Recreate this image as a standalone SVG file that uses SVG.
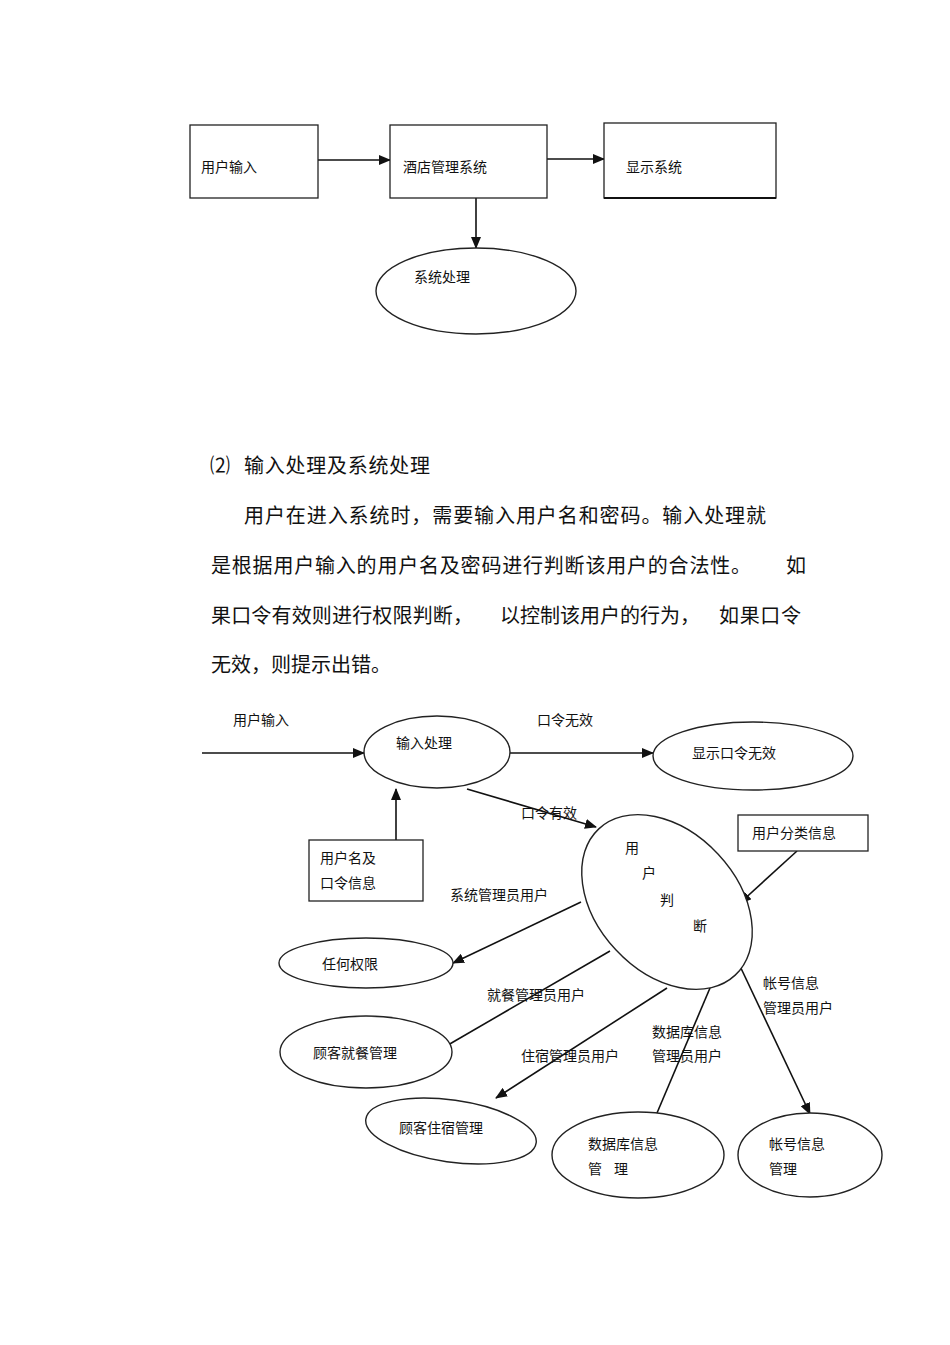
<svg xmlns="http://www.w3.org/2000/svg" width="950" height="1345" viewBox="0 0 950 1345">
<style>
.bg{fill:#ffffff}
.box{fill:#ffffff;stroke:#222;stroke-width:1.3}
.ell{fill:#ffffff;stroke:#222;stroke-width:1.4}
.ln{fill:none;stroke:#111;stroke-width:1.6}
.t{font-family:"Liberation Serif","Noto Sans CJK SC",serif;font-size:14px;fill:#111}
.p{font-family:"Liberation Serif","Noto Sans CJK SC",serif;font-size:20px;fill:#111}
</style>
<defs>
<marker id="ah" markerWidth="12" markerHeight="10" refX="11" refY="5" orient="auto" markerUnits="userSpaceOnUse">
<path d="M0,0 L12,5 L0,10 Z" fill="#111"/>
</marker>
</defs>
<rect class="bg" x="0" y="0" width="950" height="1345"/>

<!-- Top diagram -->
<g id="connectors-top">
<line class="ln" x1="318" y1="160" x2="390" y2="160" marker-end="url(#ah)"/>
<line class="ln" x1="547" y1="159" x2="604" y2="159" marker-end="url(#ah)"/>
<line class="ln" x1="476" y1="198" x2="476" y2="248" marker-end="url(#ah)"/>
</g>
<g id="n-user-input">
<rect class="box" x="190" y="125" width="128" height="73"/>
<text class="t" x="201" y="172">用户输入</text>
</g>
<g id="n-hotel-system">
<rect class="box" x="390" y="125" width="157" height="73"/>
<text class="t" x="403" y="172">酒店管理系统</text>
</g>
<g id="n-display-system">
<rect class="box" x="604" y="123" width="172" height="75"/>
<line x1="604" y1="198" x2="776" y2="198" stroke="#111" stroke-width="2.2"/>
<text class="t" x="626" y="172">显示系统</text>
</g>
<g id="n-system-process">
<ellipse class="ell" cx="476" cy="291" rx="100" ry="43"/>
<text class="t" x="414" y="282">系统处理</text>
</g>

<!-- Paragraph -->
<g id="paragraph">
<text class="p" x="210" y="473">⑵</text>
<text class="p" x="244" y="473" textLength="186" lengthAdjust="spacing">输入处理及系统处理</text>
<text class="p" x="244" y="523" textLength="522" lengthAdjust="spacing">用户在进入系统时，需要输入用户名和密码。输入处理就</text>
<text class="p" x="211" y="573" textLength="540" lengthAdjust="spacing">是根据用户输入的用户名及密码进行判断该用户的合法性。</text>
<text class="p" x="786" y="573">如</text>
<text class="p" x="211" y="623" textLength="262" lengthAdjust="spacing">果口令有效则进行权限判断，</text>
<text class="p" x="500" y="623" textLength="200" lengthAdjust="spacing">以控制该用户的行为，</text>
<text class="p" x="719" y="623" textLength="82" lengthAdjust="spacing">如果口令</text>
<text class="p" x="211" y="672" textLength="180" lengthAdjust="spacing">无效，则提示出错。</text>
</g>

<!-- Bottom diagram connectors -->
<g id="connectors">
<line class="ln" x1="202" y1="753" x2="364" y2="753" marker-end="url(#ah)"/>
<line class="ln" x1="510" y1="753" x2="653" y2="753" marker-end="url(#ah)"/>
<line class="ln" x1="467" y1="789" x2="596" y2="827" marker-end="url(#ah)"/>
<line class="ln" x1="396" y1="840" x2="396" y2="789" marker-end="url(#ah)"/>
<line class="ln" x1="797" y1="851" x2="740" y2="903" marker-end="url(#ah)"/>
<line class="ln" x1="581" y1="902" x2="453" y2="963" marker-end="url(#ah)"/>
<line class="ln" x1="610" y1="951" x2="448" y2="1045"/>
<line class="ln" x1="667" y1="988" x2="496" y2="1098" marker-end="url(#ah)"/>
<line class="ln" x1="710" y1="988" x2="657" y2="1113"/>
<line class="ln" x1="739" y1="964" x2="810" y2="1114" marker-end="url(#ah)"/>
<text class="t" x="233" y="725">用户输入</text>
<text class="t" x="537" y="725">口令无效</text>
<text class="t" x="521" y="818">口令有效</text>
<text class="t" x="450" y="900">系统管理员用户</text>
<text class="t" x="487" y="1000">就餐管理员用户</text>
<text class="t" x="521" y="1061">住宿管理员用户</text>
<text class="t" x="652" y="1037">数据库信息</text>
<text class="t" x="652" y="1061">管理员用户</text>
<text class="t" x="763" y="988">帐号信息</text>
<text class="t" x="763" y="1013">管理员用户</text>
</g>

<g id="n-input-process">
<ellipse class="ell" cx="437" cy="752" rx="73" ry="36"/>
<text class="t" x="396" y="748">输入处理</text>
</g>
<g id="n-show-invalid">
<ellipse class="ell" cx="753" cy="756" rx="100" ry="34"/>
<text class="t" x="692" y="758">显示口令无效</text>
</g>
<g id="n-user-pwd-info">
<rect class="box" x="309" y="840" width="114" height="61"/>
<text class="t" x="320" y="863">用户名及</text>
<text class="t" x="320" y="888">口令信息</text>
</g>
<g id="n-user-class-info">
<rect class="box" x="738" y="815" width="130" height="36"/>
<text class="t" x="752" y="838">用户分类信息</text>
</g>
<g id="n-user-judge">
<ellipse class="ell" cx="667" cy="902" rx="100" ry="70" transform="rotate(47 667 902)"/>
<text class="t" x="625" y="853">用</text>
<text class="t" x="642" y="878">户</text>
<text class="t" x="660" y="905">判</text>
<text class="t" x="693" y="931">断</text>
</g>
<g id="n-any-perm">
<ellipse class="ell" cx="366" cy="963" rx="87" ry="25"/>
<text class="t" x="322" y="969">任何权限</text>
</g>
<g id="n-dining">
<ellipse class="ell" cx="366" cy="1052" rx="86" ry="36"/>
<text class="t" x="313" y="1058">顾客就餐管理</text>
</g>
<g id="n-lodging">
<ellipse class="ell" cx="451" cy="1131" rx="86" ry="31" transform="rotate(8 451 1131)"/>
<text class="t" x="399" y="1133">顾客住宿管理</text>
</g>
<g id="n-db-info">
<ellipse class="ell" cx="638" cy="1155" rx="86" ry="43"/>
<text class="t" x="588" y="1149">数据库信息</text>
<text class="t" x="588" y="1174">管</text>
<text class="t" x="614" y="1174">理</text>
</g>
<g id="n-account-info">
<ellipse class="ell" cx="810" cy="1155" rx="72" ry="42"/>
<text class="t" x="769" y="1149">帐号信息</text>
<text class="t" x="769" y="1174">管理</text>
</g>
</svg>
